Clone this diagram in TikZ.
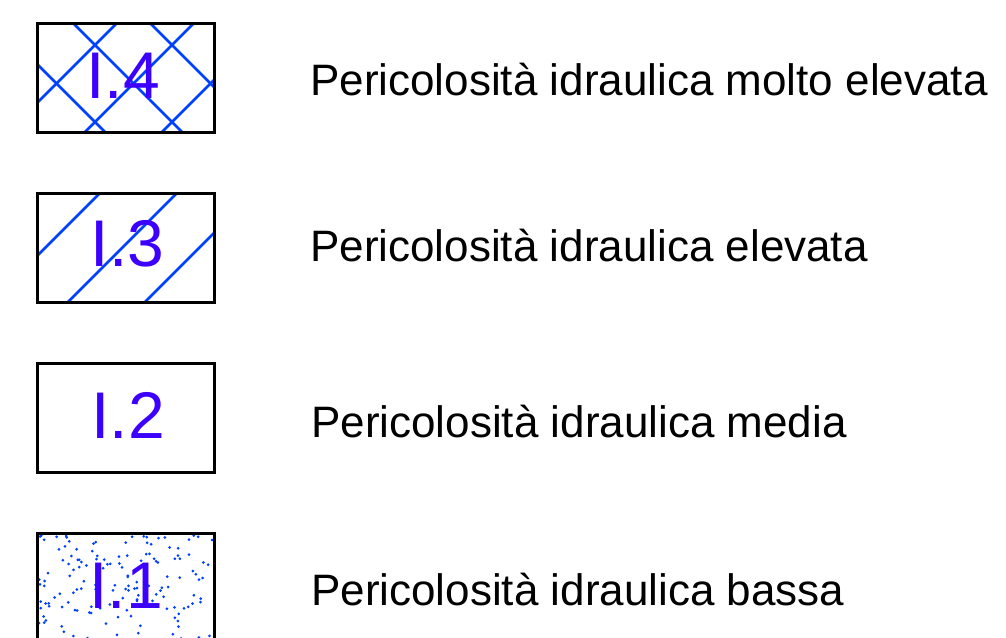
\documentclass[tikz,border=0pt]{standalone}
\usepackage{fontspec}
\setmainfont{Liberation Sans}
\usepackage{xcolor}
\usepackage{tikz}
\usetikzlibrary{positioning}
\definecolor{hatchblue}{RGB}{0, 64, 255}
\definecolor{numviolet}{RGB}{60, 0, 255}

\tikzset{
  legbox/.style={draw=black, line width=3pt, minimum width=177pt, minimum height=109pt, inner sep=0pt, outer sep=0pt},
  hatch/.style={draw=hatchblue, line width=2.7pt},
  legnum/.style={numviolet, font=\fontsize{66}{66}\selectfont, inner sep=0pt},
  legtext/.style={black, font=\fontsize{44}{44}\selectfont, inner sep=0pt, anchor=base west}
}

\begin{document}
\begin{tikzpicture}[x=1pt, y=-1pt]
            \useasboundingbox (0,0) rectangle (1006,637);

            % Legend boxes
            \node[legbox] (box4) at (125.5,77.5) {};
            \node[legbox] (box3) at (125.5,247.5) {};
            \node[legbox] (box2) at (125.5,417.5) {};
            \node[legbox] (box1) at (125.5,587.5) {};

            % Cross hatching
            \begin{scope}
                \clip (box4.south west) rectangle (box4.north east);
                \foreach \c in {140, 217, 294} {
                    \draw[hatch] (\c-160,160) -- (\c,0);
                }
                \foreach \d in {-27, 50, 127} {
                    \draw[hatch] (\d,0) -- (\d+160,160);
                }
            \end{scope}

            % Single hatching
            \begin{scope}
                \clip (box3.south west) rectangle (box3.north east);
                \foreach \c in {293, 370, 447} {
                    \draw[hatch] (\c-320,320) -- (\c-180,180);
                }
            \end{scope}

            % Dots
            \begin{scope}
                \clip (box1.south west) rectangle (box1.north east);
                \pgfmathsetseed{11}
                \foreach \k in {1,...,150} {
                    \fill[hatchblue] ({38+176*rnd},{535+106*rnd}) circle (1.5pt);
                }
            \end{scope}

            % Redraw borders over the fills
            \foreach \b in {box4, box3, box2, box1} {
                \draw[line width=3pt] (\b.south west) rectangle (\b.north east);
            }

            % Box labels
            \node[legnum] (num4) at (123,76) {I.4};
            \node[legnum] (num3) at (127.5,244) {I.3};
            \node[legnum] (num2) at (128,415) {I.2};
            \node[legnum] (num1) at (126,585.5) {I.1};

            % Descriptions
            \node[legtext] (txt4) at (310,95) {Pericolosità idraulica molto elevata};
            \node[legtext] (txt3) at (310,261) {Pericolosità idraulica elevata};
            \node[legtext] (txt2) at (311,437) {Pericolosità idraulica media};
            \node[legtext] (txt1) at (311,605) {Pericolosità idraulica bassa};
        \end{tikzpicture}
\end{document}
